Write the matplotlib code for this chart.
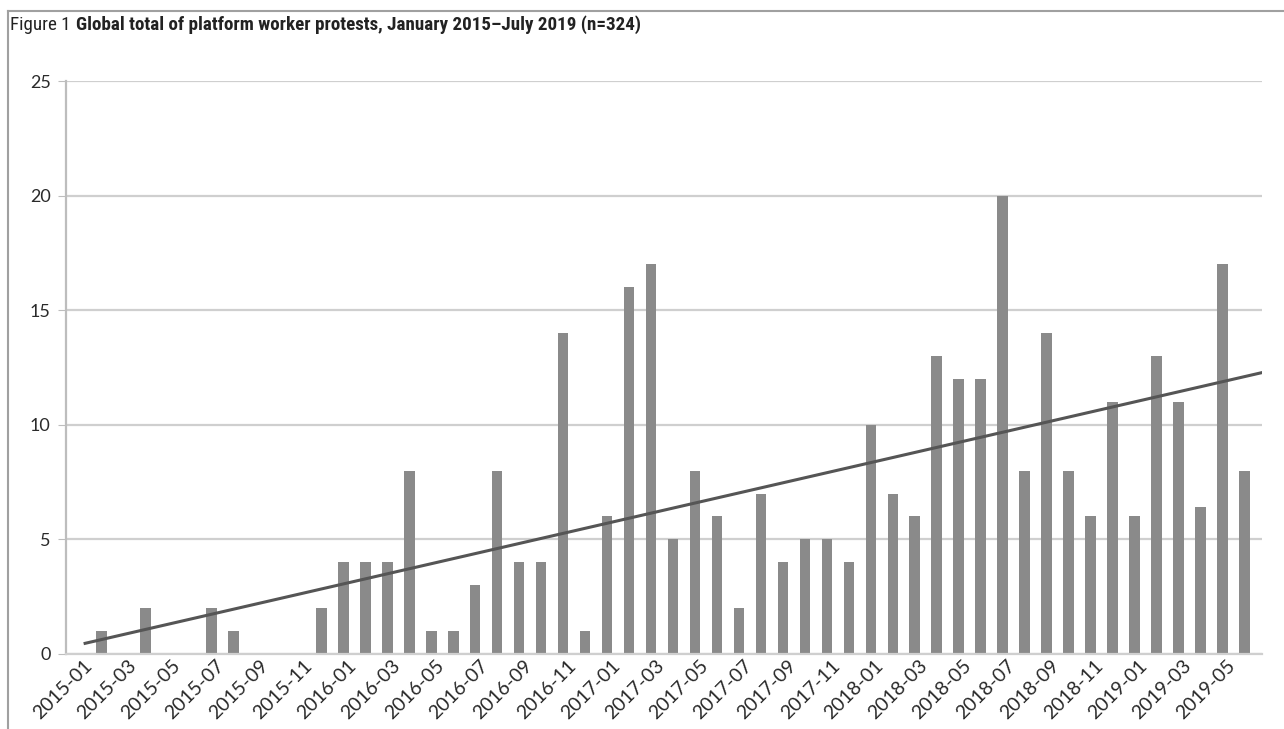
import numpy as np
import pandas as pd
import matplotlib.pyplot as plt
from matplotlib.lines import Line2D
from matplotlib.transforms import ScaledTranslation

# --- data ---
months = pd.period_range('2015-01', '2019-05', freq='M').strftime('%Y-%m').tolist()
protests = [1, 0, 2, 0, 0, 2, 1, 0, 0, 0, 2, 4,
            4, 4, 8, 1, 1, 3, 8, 4, 4, 14, 1, 6,
            16, 17, 5, 8, 6, 2, 7, 4, 5, 5, 4, 10,
            7, 6, 13, 12, 12, 20, 8, 14, 8, 6, 11, 6,
            13, 11, 6.4, 17, 8]
y_ticks = [0, 5, 10, 15, 20, 25]

x = np.arange(len(months))

plt.rcParams['font.family'] = ['Lato', 'DejaVu Sans']

fig = plt.figure(figsize=(12.84, 7.29), dpi=100)
ax = fig.add_axes([66 / 1284, 1 - 654 / 729, (1262 - 66) / 1284, (654 - 81) / 729])

# bars
ax.bar(x, protests, width=0.48, color='#8a8a8a', zorder=2)

# linear trend line
slope, intercept = np.polyfit(x, protests, 1)
x_trend = np.array([-0.75, 52.8])
ax.plot(x_trend, slope * x_trend + intercept, color='#555555', linewidth=2.2, zorder=3)

# axes styling
ax.set_xlim(-1.62, 52.8)
ax.set_ylim(0, 25)
ax.set_yticks(y_ticks)
ax.yaxis.grid(True, color='#cfcfcf', linewidth=1.6, zorder=0)
for side in ['top', 'right']:
    ax.spines[side].set_visible(False)
ax.spines['left'].set_color('#bdbdbd')
ax.spines['left'].set_linewidth(1.6)
ax.spines['bottom'].set_color('#cfcfcf')
ax.spines['bottom'].set_linewidth(1.6)
ax.tick_params(axis='y', length=6, color='#bdbdbd', labelsize=13, labelcolor='#2a2a2a', pad=5)
ax.tick_params(axis='x', length=0, labelsize=14, labelcolor='#2a2a2a', pad=2)

ax.set_xticks(x[::2])
ax.set_xticklabels(months[::2], rotation=45, ha='right', va='center', rotation_mode='anchor')
for lab in ax.get_xticklabels():
    lab.set_transform(lab.get_transform() + ScaledTranslation(-12 / 100, -6 / 100, fig.dpi_scale_trans))

# title: regular prefix + bold text (condensed face like the original)
t1 = fig.text(10 / 1284, 1 - 30 / 729, 'Figure 1', fontsize=13.7,
              family=['Roboto Condensed', 'DejaVu Sans'], color='#222222')
fig.canvas.draw()
bb = t1.get_window_extent()
fig.text((bb.x1 + 5) / 1284, 1 - 30 / 729,
         'Global total of platform worker protests, January 2015\u2013July 2019 (n=324)',
         fontsize=13.7, fontweight='bold', family=['Roboto Condensed', 'DejaVu Sans'],
         color='#222222')

# frame lines around the figure box
fig.add_artist(Line2D([8 / 1284, 8 / 1284], [0, 1 - 11 / 729], color='#a0a0a0', linewidth=1.5))
fig.add_artist(Line2D([8 / 1284, 1], [1 - 11 / 729, 1 - 11 / 729], color='#a0a0a0', linewidth=1.5))

fig.savefig('out.png', dpi=100)
